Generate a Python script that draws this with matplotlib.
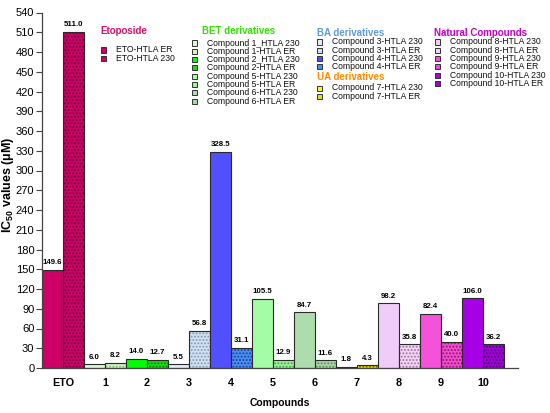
import numpy as np
import matplotlib
matplotlib.use('Agg')
import matplotlib.pyplot as plt
from matplotlib.patches import Rectangle

plt.rcParams['font.family'] = ['Liberation Sans', 'DejaVu Sans']
plt.rcParams['mathtext.fontset'] = 'custom'
plt.rcParams['mathtext.rm'] = 'Liberation Sans:bold'
plt.rcParams['mathtext.bf'] = 'Liberation Sans:bold'
plt.rcParams['hatch.linewidth'] = 0.9

# data
groups = ['ETO', '1', '2', '3', '4', '5', '6', '7', '8', '9', '10']
vals_230 = [149.6, 6.0, 14.0, 5.5, 328.5, 105.5, 84.7, 1.8, 98.2, 82.4, 106.0]
vals_er = [511.0, 8.2, 12.7, 56.8, 31.1, 12.9, 11.6, 4.3, 35.8, 40.0, 36.2]

plain_colors = ['#CC0066', '#DDF4D6', '#00FF00', '#E2ECF8', '#5050FF', '#A4FCA4',
                '#ADDDAD', '#FFFF00', '#F0CCF8', '#F452D8', '#A600E6']
dot_fill = ['#CC0066', '#D4F0CA', '#10E010', '#D2E0F0', '#4A90F0', '#9CF29C',
            '#A6D6A6', '#E8E000', '#F2D4F2', '#F04ED0', '#A000D8']
dot_color = ['#700038', '#7EBE70', '#007A00', '#8098B8', '#1A3A9A', '#40A040',
             '#5E8E5E', '#6A6A00', '#A070A8', '#901070', '#50006E']

# legend blocks
leg_titles = ['Etoposide', 'BET derivatives', 'BA derivatives', 'UA derivatives', 'Natural Compounds']
leg_title_colors = ['#D4136A', '#33E000', '#5C9CE8', '#FF8C00', '#C000C8']
leg_eto = ['ETO-HTLA ER', 'ETO-HTLA 230']
leg_bet = ['Compound 1_HTLA 230', 'Compound 1-HTLA ER', 'Compound 2_HTLA 230', 'Compound 2-HTLA ER',
           'Compound 5-HTLA 230', 'Compound 5-HTLA ER', 'Compound 6-HTLA 230', 'Compound 6-HTLA ER']
leg_ba = ['Compound 3-HTLA 230', 'Compound 3-HTLA ER', 'Compound 4-HTLA 230', 'Compound 4-HTLA ER']
leg_ua = ['Compound 7-HTLA 230', 'Compound 7-HTLA ER']
leg_nat = ['Compound 8-HTLA 230', 'Compound 8-HTLA ER', 'Compound 9-HTLA 230', 'Compound 9-HTLA ER',
           'Compound 10-HTLA 230', 'Compound 10-HTLA ER']
# which bar colours go with each legend entry (group index, dotted?)
leg_eto_keys = [(0, True), (0, False)]
leg_bet_keys = [(1, False), (1, True), (2, False), (2, True), (5, False), (5, True), (6, False), (6, True)]
leg_ba_keys = [(3, False), (3, True), (4, False), (4, True)]
leg_ua_keys = [(7, False), (7, True)]
leg_nat_keys = [(8, False), (8, True), (9, False), (9, True), (10, False), (10, True)]

W, H = 550, 413
fig = plt.figure(figsize=(5.5, 4.13), dpi=100)
ax = fig.add_axes([42 / W, 1 - 368 / H, 476 / W, (368 - 12.5) / H])

x = np.arange(len(groups)) * 2
edge = '#2a2a2a'
for i in range(len(groups)):
    ax.bar(x[i] + 0.5, vals_230[i], width=1, color=plain_colors[i], edgecolor=edge, linewidth=0.8)
    ax.bar(x[i] + 1.5, vals_er[i], width=1, color=dot_fill[i], edgecolor=dot_color[i],
           hatch='.....', linewidth=0)
    ax.bar(x[i] + 1.5, vals_er[i], width=1, fill=False, edgecolor=edge, linewidth=0.8)
    for xc, v in [(x[i] + 0.5, vals_230[i]), (x[i] + 1.5, vals_er[i])]:
        ax.annotate(f'{v:.1f}', (xc, v), xytext=(0, 2.5), textcoords='offset points',
                    ha='center', va='bottom', fontsize=5.7, fontweight='bold')

ax.set_xlim(0, 22.67)
ax.set_ylim(0, 540)
ax.set_yticks(np.arange(0, 541, 30))
ax.set_xticks(x + 1)
ax.set_xticklabels(groups, fontsize=7.8, fontweight='bold')
ax.tick_params(axis='x', length=0, pad=7)
ax.tick_params(axis='y', length=4, width=0.8, labelsize=8, pad=1.5, color='#444444')
for s in ['top', 'right']:
    ax.spines[s].set_visible(False)
for s in ['left', 'bottom']:
    ax.spines[s].set_linewidth(0.9)
    ax.spines[s].set_color('#444444')

ax.set_xlabel('Compounds', fontsize=7.5, fontweight='bold')
ax.xaxis.set_label_coords(0.5, -(403 - 368) / (368 - 12.5))
ax.xaxis.label.set_va('center')
ax.set_ylabel(r'IC$_{\mathbf{50}}$ values (μM)', fontsize=9, fontweight='bold')
ax.yaxis.set_label_coords((8.5 - 42) / 476, (368 - 185) / (368 - 12.5))
ax.yaxis.label.set_va('center')


def legend_block(title, tcolor, tx, ty, labels, keys, ex, ey, step):
    fig.text(tx / W, 1 - ty / H, title, color=tcolor, fontsize=7, fontweight='bold',
             ha='left', va='center')
    for j, (lab, (gi, dotted)) in enumerate(zip(labels, keys)):
        yy = ey + j * step
        fc = dot_fill[gi] if dotted else plain_colors[gi]
        r = Rectangle(((ex - 2.5) / W, 1 - (yy + 2.5) / H), 5 / W, 5 / H, transform=fig.transFigure,
                      facecolor=fc, edgecolor='#333333', linewidth=0.7)
        fig.patches.append(r)
        fig.text((ex + 13) / W, 1 - yy / H, lab, fontsize=6.2, ha='left', va='center', color='#111111')


legend_block(leg_titles[0], leg_title_colors[0], 100, 31, leg_eto, leg_eto_keys, 103, 50, 8.5)
legend_block(leg_titles[1], leg_title_colors[1], 202, 31, leg_bet, leg_bet_keys, 194, 43, 8.3)
legend_block(leg_titles[2], leg_title_colors[2], 317, 33, leg_ba, leg_ba_keys, 319, 42, 8.2)
legend_block(leg_titles[3], leg_title_colors[3], 317, 77, leg_ua, leg_ua_keys, 319, 88, 8.5)
legend_block(leg_titles[4], leg_title_colors[4], 434, 33, leg_nat, leg_nat_keys, 437, 42, 8.3)

fig.savefig('out.png', dpi=100)
